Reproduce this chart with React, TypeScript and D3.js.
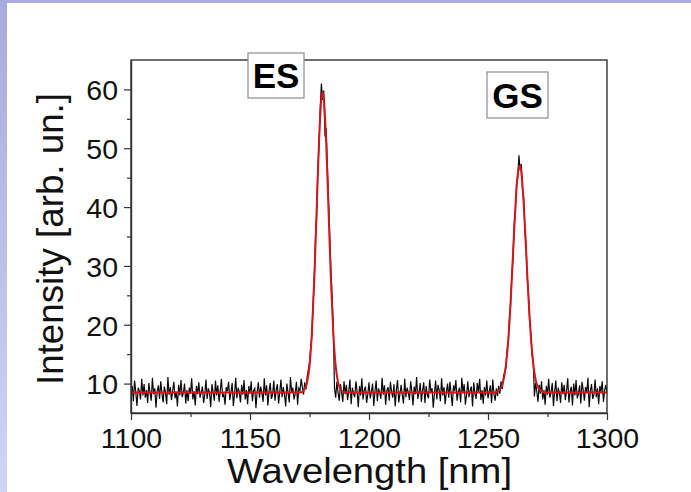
import React, { useEffect, useRef } from 'react';
import * as d3 from 'd3';

// Measured spectrum: start wavelength and sampling step (nm), then intensities
const wlStart = 1100;
const wlStep = 0.5;
const intensity: number[] = [
  // 1100 - 1171.5 baseline
  8.1, 9.6, 7.0, 10.5, 8.6, 6.2, 9.3, 8.8, 7.3, 10.8, 8.0, 9.9,
  7.6, 8.9, 6.7, 10.1, 8.4, 7.1, 11.0, 8.2, 9.2, 5.9, 8.7, 9.7,
  7.4, 10.4, 8.3, 6.8, 9.5, 8.5, 6.5, 11.1, 8.1, 9.4, 7.2, 8.8,
  10.3, 7.5, 8.6, 6.1, 9.8, 8.0, 10.6, 7.7, 8.4, 10.0, 6.6, 8.9,
  7.0, 9.3, 8.3, 10.9, 7.3, 8.7, 6.3, 9.6, 8.2, 10.2, 7.6, 8.5,
  9.5, 6.7, 8.1, 10.7, 7.4, 9.2, 8.4, 6.0, 9.9, 8.6, 7.1, 10.5,
  8.0, 9.7, 6.9, 8.8, 10.8, 7.7, 8.3, 6.4, 9.4, 8.7, 10.3, 7.2,
  8.5, 10.1, 6.2, 8.2, 11.0, 7.5, 9.3, 8.6, 6.8, 9.8, 8.1, 10.6,
  7.3, 8.9, 6.5, 9.6, 8.3, 10.4, 7.0, 8.8, 9.2, 5.8, 8.6, 10.2,
  7.6, 9.5, 8.4, 6.9, 10.9, 8.0, 9.7, 6.3, 8.7, 10.1, 7.4, 8.2,
  10.5, 7.1, 8.9, 9.9, 6.6, 8.5, 10.7, 7.7, 9.4, 8.1, 6.1, 10.0,
  8.4, 6.8, 11.1, 8.6, 9.3, 7.3, 8.3, 10.3, 6.4, 9.2, 8.8, 10.8,
  // 1172 - 1190 ES peak
  9.4, 8.1, 10.2, 9.0, 11.1, 12.3, 13.6, 16.1, 18.2, 23.5,
  27.9, 34.6, 38.8, 46.7, 50.4, 56.9, 61.0, 58.2, 59.8, 52.0,
  53.4, 47.1, 41.2, 35.0, 29.3, 24.8, 19.5, 9.2, 7.6, 10.3,
  8.4, 7.1, 9.9, 8.5, 6.9, 10.4, 8.2,
  // 1190.5 - 1253.5 baseline
  9.8, 7.2, 8.8, 10.7, 6.5, 9.3, 8.3, 7.7, 10.4, 8.6, 6.0, 9.6,
  8.0, 10.9, 7.3, 8.9, 9.5, 6.7, 8.2, 10.2, 7.5, 8.5, 10.0, 6.2,
  8.7, 10.5, 7.0, 9.2, 8.4, 7.4, 11.0, 8.1, 9.7, 6.4, 8.8, 9.4,
  7.1, 10.3, 8.6, 7.6, 9.9, 6.1, 8.9, 10.6, 6.8, 8.3, 9.8, 8.0,
  6.6, 10.8, 7.7, 9.3, 8.5, 7.2, 10.4, 8.7, 6.3, 9.5, 8.2, 11.1,
  7.4, 8.4, 10.1, 6.9, 8.8, 10.2, 6.7, 9.6, 8.1, 7.5, 10.7, 8.6,
  9.2, 5.9, 8.3, 10.5, 7.3, 9.8, 8.9, 7.0, 10.9, 8.0, 9.4, 6.5,
  8.5, 10.0, 7.6, 10.3, 8.2, 6.2, 9.7, 8.7, 10.6, 7.1, 8.6, 9.3,
  6.8, 11.0, 8.4, 9.9, 6.4, 8.1, 10.4, 7.7, 8.8, 9.5, 6.1, 10.2,
  8.3, 7.4, 10.1, 8.5, 10.8, 7.2, 8.9, 6.6, 9.4, 8.0, 10.5, 7.5,
  8.6, 9.7, 6.7, 10.7, 8.2, 7.1, 9.2,
  // 1254 - 1272 GS peak
  7.9, 9.6, 8.3, 10.4, 9.1, 11.2, 12.0, 12.6, 15.7, 16.9,
  21.1, 23.2, 28.6, 31.1, 37.0, 39.2, 44.1, 45.0, 48.8, 46.2,
  47.3, 42.9, 41.5, 36.0, 33.4, 27.9, 25.3, 20.4, 18.6, 14.8,
  13.9, 7.8, 10.1, 8.7, 6.9, 9.8, 8.3,
  // 1272.5 - 1300 baseline
  10.4, 7.3, 8.9, 6.4, 9.6, 8.1, 10.8, 7.6, 8.5, 10.1, 6.2, 8.7,
  10.5, 7.0, 9.3, 8.4, 6.7, 10.2, 8.2, 9.8, 7.2, 8.8, 10.9, 6.8,
  8.6, 9.5, 6.3, 10.0, 8.0, 10.6, 7.5, 8.3, 9.7, 6.6, 10.3, 8.9,
  7.1, 9.4, 8.5, 11.0, 6.0, 8.7, 9.9, 7.4, 8.1, 10.7, 7.7, 9.2,
  6.5, 9.6, 8.6, 10.4, 6.9, 8.8, 9.8, 8.3,
];

// Fitted curve (red)
const fitWl = [
  1100, 1171, 1172, 1173, 1174, 1175, 1176, 1177, 1178, 1179, 1180, 1180.5, 1181,
  1182, 1183, 1184, 1185, 1186, 1187, 1188, 1189, 1190,
  1253, 1254, 1255, 1256, 1257, 1258, 1259, 1260, 1261, 1262, 1263, 1263.5, 1264,
  1265, 1266, 1267, 1268, 1269, 1270, 1271, 1272, 1273, 1274, 1300,
];
const fitVal = [
  8.5, 8.5, 8.6, 9.1, 10.2, 13.0, 18.6, 27.6, 39.4, 51.1, 58.5, 59.5, 58.5,
  51.1, 39.4, 27.6, 18.6, 13.0, 10.2, 9.1, 8.6, 8.5,
  8.5, 8.65, 9.0, 9.8, 11.6, 14.9, 20.3, 27.8, 36.1, 43.2, 46.9, 47.0, 45.9,
  40.6, 32.7, 24.6, 18.0, 13.4, 10.7, 9.4, 8.8, 8.6, 8.5, 8.5,
];

const xTicks = [1100, 1150, 1200, 1250, 1300];
const xMinor = [1125, 1175, 1225, 1275];
const yTicks = [10, 20, 30, 40, 50, 60];
const yMinor = [15, 25, 35, 45, 55];
const xTitle = 'Wavelength [nm]';
const yTitle = 'Intensity [arb. un.]';
const peakLabels = [
  { text: 'ES', x0: 248, y0: 53, w: 56, h: 45 },
  { text: 'GS', x0: 487, y0: 72, w: 61, h: 46 },
];

const W = 691, H = 492;
const L = 131, R = 607, T = 60, B = 413;
const FONT = '"Liberation Sans", Arial, Helvetica, sans-serif';

export default function App() {
  const ref = useRef<SVGSVGElement>(null);
  useEffect(() => {
    const svg = d3.select(ref.current);
    svg.selectAll('*').remove();

    const defs = svg.append('defs');
    const g = defs.append('linearGradient').attr('id', 'lstrip').attr('x1', 0).attr('y1', 0).attr('x2', 0).attr('y2', 1);
    g.append('stop').attr('offset', '0%').attr('stop-color', '#a7abdd');
    g.append('stop').attr('offset', '100%').attr('stop-color', '#d0d4f4');
    defs.append('clipPath').attr('id', 'plotclip').append('rect')
      .attr('x', L).attr('y', T).attr('width', R - L).attr('height', B - T);

    svg.append('rect').attr('width', W).attr('height', H).attr('fill', '#fff');
    svg.append('rect').attr('x', 0).attr('y', 0).attr('width', W).attr('height', 3).attr('fill', '#a7abdd');
    svg.append('rect').attr('x', 0).attr('y', 0).attr('width', 7).attr('height', H).attr('fill', 'url(#lstrip)');

    const x = d3.scaleLinear().domain([1100, 1300]).range([L, R]);
    const y = d3.scaleLinear().domain([5, 65]).range([B, T]);

    const data = intensity.map((v, i) => [wlStart + i * wlStep, v] as [number, number]);
    const fit = fitWl.map((w, i) => [w, fitVal[i]] as [number, number]);

    const plot = svg.append('g').attr('clip-path', 'url(#plotclip)');
    plot.append('path')
      .attr('d', d3.line<[number, number]>().x(d => x(d[0])).y(d => y(d[1]))(data) as string)
      .attr('fill', 'none').attr('stroke', '#0a0a0a').attr('stroke-width', 1.2);
    plot.append('path')
      .attr('d', d3.line<[number, number]>().x(d => x(d[0])).y(d => y(d[1])).curve(d3.curveMonotoneX)(fit) as string)
      .attr('fill', 'none').attr('stroke', '#d2161b').attr('stroke-width', 2);

    // frame
    svg.append('rect').attr('x', L).attr('y', T).attr('width', R - L).attr('height', B - T)
      .attr('fill', 'none').attr('stroke', '#333').attr('stroke-width', 1.4);

    // axes
    const xAxis = svg.append('g').attr('transform', `translate(0,${B})`)
      .call(d3.axisBottom(x).tickValues(xTicks).tickSize(7).tickSizeOuter(0).tickFormat(d3.format('d')));
    svg.append('g').attr('transform', `translate(0,${B})`)
      .call(d3.axisBottom(x).tickValues(xMinor).tickSize(4).tickSizeOuter(0).tickFormat(() => ''))
      .select('.domain').remove();
    const yAxis = svg.append('g').attr('transform', `translate(${L},0)`)
      .call(d3.axisLeft(y).tickValues(yTicks).tickSize(7).tickSizeOuter(0).tickPadding(6).tickFormat(d3.format('d')));
    svg.append('g').attr('transform', `translate(${L},0)`)
      .call(d3.axisLeft(y).tickValues(yMinor).tickSize(4).tickSizeOuter(0).tickFormat(() => ''))
      .select('.domain').remove();
    svg.selectAll('.domain').attr('stroke', '#333').attr('stroke-width', 1.4);
    svg.selectAll('.tick line').attr('stroke', '#333').attr('stroke-width', 1.2);
    xAxis.selectAll('text').attr('font-family', FONT).attr('font-size', 28.5).attr('fill', '#111')
      .attr('y', 35).attr('dy', '0');
    yAxis.selectAll('text').attr('font-family', FONT).attr('font-size', 28.5).attr('fill', '#111')
      .attr('x', -13).attr('dy', '0.36em');

    // titles
    svg.append('text').attr('x', 369.5).attr('y', 483).attr('text-anchor', 'middle')
      .attr('font-family', FONT).attr('font-size', 35).attr('fill', '#111')
      .attr('textLength', 285).attr('lengthAdjust', 'spacingAndGlyphs').text(xTitle);
    svg.append('text').attr('transform', 'translate(63,239) rotate(-90)').attr('text-anchor', 'middle')
      .attr('font-family', FONT).attr('font-size', 37).attr('fill', '#111')
      .attr('textLength', 292).attr('lengthAdjust', 'spacingAndGlyphs').text(yTitle);

    // peak labels
    peakLabels.forEach(p => {
      svg.append('rect').attr('x', p.x0).attr('y', p.y0).attr('width', p.w).attr('height', p.h)
        .attr('fill', '#fff').attr('stroke', '#8c8c8c').attr('stroke-width', 1.2);
      svg.append('text').attr('x', p.x0 + p.w / 2).attr('y', p.y0 + p.h / 2 + 12.5).attr('text-anchor', 'middle')
        .attr('font-family', FONT).attr('font-weight', 'bold').attr('font-size', 35).attr('fill', '#000')
        .text(p.text);
    });
  }, []);
  return <svg ref={ref} width={W} height={H} style={{ position: 'absolute', left: 0, top: 0 }} />;
}
